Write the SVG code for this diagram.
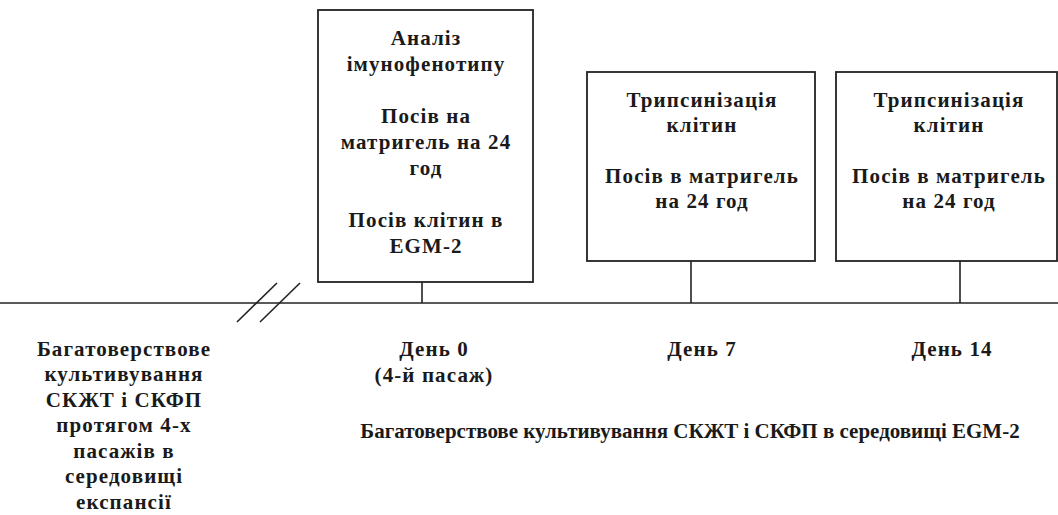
<svg xmlns="http://www.w3.org/2000/svg" width="1058" height="515" viewBox="0 0 1058 515">
<style>
.box{fill:#fff;stroke:#222;stroke-width:1.8}
.ln{stroke:#222;stroke-width:1.6;fill:none}
text{font-family:"Liberation Serif","Times New Roman",serif;font-weight:bold;fill:#1a1a1a;text-anchor:middle}
.t{font-size:21px;letter-spacing:1.1px}
.s{font-size:21px}
</style>
<rect width="1058" height="515" fill="#fff"/>
<g id="connectors">
<line class="ln" x1="0" y1="303" x2="1058" y2="303"/>
<line class="ln" x1="237" y1="322" x2="277" y2="283"/>
<line class="ln" x1="260" y1="322" x2="300" y2="283"/>
<line class="ln" x1="422" y1="282" x2="422" y2="303"/>
<line class="ln" x1="691" y1="261" x2="691" y2="303"/>
<line class="ln" x1="960" y1="261" x2="960" y2="303"/>
</g>
<g id="box-day0">
<rect class="box" x="318" y="10" width="215" height="272"/>
<text class="t" x="426" y="45">Аналіз</text>
<text class="t" x="426" y="71">імунофенотипу</text>
<text class="t" x="426" y="123">Посів на</text>
<text class="t" x="426" y="149">матригель на 24</text>
<text class="t" x="426" y="175">год</text>
<text class="t" x="426" y="227">Посів клітин в</text>
<text class="t" x="426" y="253">EGM-2</text>
</g>
<g id="box-day7">
<rect class="box" x="587" y="72" width="228" height="189"/>
<text class="t" x="702" y="107">Трипсинізація</text>
<text class="t" x="702" y="132">клітин</text>
<text class="t" x="702" y="183">Посів в матригель</text>
<text class="t" x="702" y="208">на 24 год</text>
</g>
<g id="box-day14">
<rect class="box" x="836" y="72" width="221" height="189"/>
<text class="t" x="949" y="107">Трипсинізація</text>
<text class="t" x="949" y="132">клітин</text>
<text class="t" x="949" y="183">Посів в матригель</text>
<text class="t" x="949" y="208">на 24 год</text>
</g>
<g id="label-expansion">
<text class="t" x="124" y="356">Багатоверствове</text>
<text class="t" x="124" y="381">культивування</text>
<text class="t" x="124" y="407">СКЖТ і СКФП</text>
<text class="t" x="124" y="432">протягом 4-х</text>
<text class="t" x="124" y="458">пасажів в</text>
<text class="t" x="124" y="483">середовищі</text>
<text class="t" x="124" y="509">експансії</text>
</g>
<g id="label-day0">
<text class="t" x="434" y="356">День 0</text>
<text class="t" x="434" y="382">(4-й пасаж)</text>
</g>
<g id="label-day7">
<text class="t" x="702" y="356">День 7</text>
</g>
<g id="label-day14">
<text class="t" x="952" y="356">День 14</text>
</g>
<g id="label-egm">
<text class="s" x="690" y="438">Багатоверствове культивування СКЖТ і СКФП в середовищі EGM-2</text>
</g>
</svg>
